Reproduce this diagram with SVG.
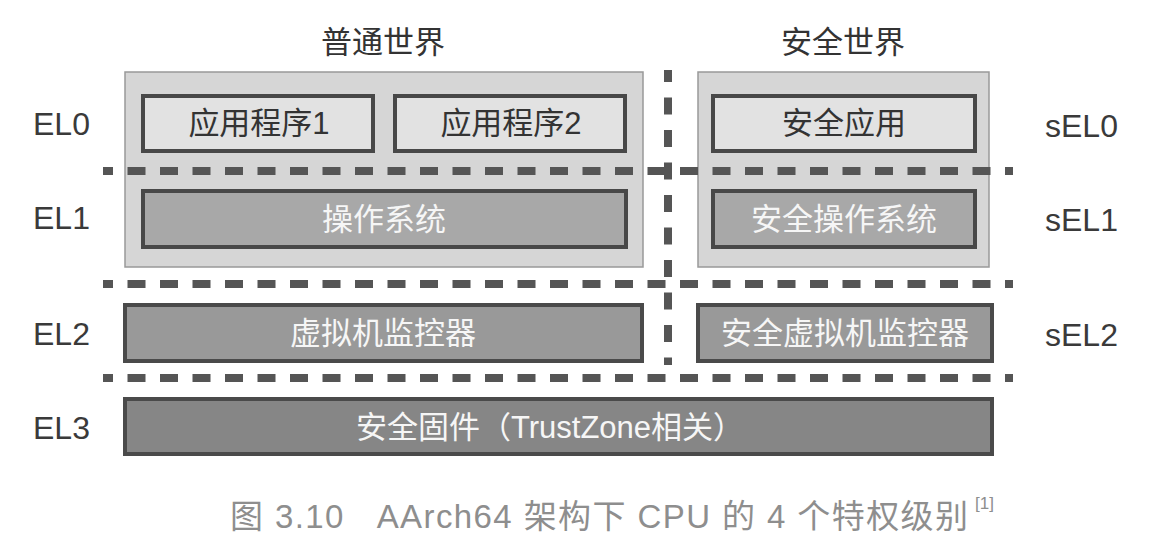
<svg xmlns="http://www.w3.org/2000/svg" width="1163" height="533" viewBox="0 0 1163 533">
<style>
.world{fill:#d6d6d6;stroke:#999;stroke-width:1.5}
.app{fill:#e2e2e2;stroke:#484848;stroke-width:4}
.os{fill:#a8a8a8;stroke:#484848;stroke-width:4}
.hyp{fill:#999;stroke:#4a4a4a;stroke-width:4}
.fw{fill:#868686;stroke:#4a4a4a;stroke-width:4}
.t{font-family:"Liberation Sans","Noto Sans CJK SC",sans-serif;font-size:31px;text-anchor:middle}
.dk{fill:#333}
.wt{fill:#f6f6f6}
.lbl{font-family:"Liberation Sans",Arial,sans-serif;font-size:32px;fill:#3a3a3a}
.ttl{font-family:"Noto Sans CJK SC",sans-serif;font-size:31px;fill:#333;text-anchor:middle}
.sep{stroke:#555;stroke-width:8;fill:none}
.h{stroke-dasharray:18 14.5;stroke-dashoffset:8}
.v{stroke-dasharray:17 15.5;stroke-dashoffset:5}
.cap{font-family:"Liberation Sans","Noto Sans CJK SC",sans-serif;fill:#8e8e8e}
</style>
<g id="title-normal"><text class="ttl" x="383" y="53">普通世界</text></g>
<g id="title-secure"><text class="ttl" x="843" y="53">安全世界</text></g>
<g id="normal-world"><rect class="world" x="125" y="72" width="518" height="195"/></g>
<g id="secure-world"><rect class="world" x="698" y="72" width="291" height="195"/></g>
<g id="app1"><rect class="app" x="143" y="96" width="230" height="55"/><text class="t dk" x="259" y="134">应用程序1</text></g>
<g id="app2"><rect class="app" x="395" y="96" width="230" height="55"/><text class="t dk" x="511" y="134">应用程序2</text></g>
<g id="secure-app"><rect class="app" x="713" y="96" width="262" height="55"/><text class="t dk" x="844" y="134">安全应用</text></g>
<g id="os"><rect class="os" x="143" y="191" width="483" height="56"/><text class="t wt" x="384" y="230">操作系统</text></g>
<g id="secure-os"><rect class="os" x="713" y="191" width="262" height="56"/><text class="t wt" x="844" y="230">安全操作系统</text></g>
<g id="hypervisor"><rect class="hyp" x="125" y="305" width="517" height="56"/><text class="t wt" x="383" y="344">虚拟机监控器</text></g>
<g id="secure-hypervisor"><rect class="hyp" x="698" y="305" width="294" height="56"/><text class="t wt" x="845" y="344">安全虚拟机监控器</text></g>
<g id="firmware"><rect class="fw" x="125" y="399" width="867" height="55"/><text class="t wt" x="550" y="438">安全固件（TrustZone相关）</text></g>
<g id="connectors">
<line class="sep h" x1="103" y1="171" x2="1013" y2="171"/>
<line class="sep h" x1="103" y1="284" x2="1013" y2="284"/>
<line class="sep h" x1="103" y1="378" x2="1013" y2="378"/>
<line class="sep v" x1="668" y1="70" x2="668" y2="365"/>
</g>
<g id="levels">
<text class="lbl" x="33" y="135">EL0</text>
<text class="lbl" x="33" y="229">EL1</text>
<text class="lbl" x="33" y="345">EL2</text>
<text class="lbl" x="33" y="439">EL3</text>
<text class="lbl" x="1045" y="137">sEL0</text>
<text class="lbl" x="1045" y="231">sEL1</text>
<text class="lbl" x="1045" y="346">sEL2</text>
</g>
<g id="caption">
<text class="cap" x="230" y="528" font-size="33" textLength="738" lengthAdjust="spacing" xml:space="preserve">图 3.10   AArch64 架构下 CPU 的 4 个特权级别</text>
<text class="cap" x="975" y="509" font-size="17">[1]</text>
</g>
</svg>
